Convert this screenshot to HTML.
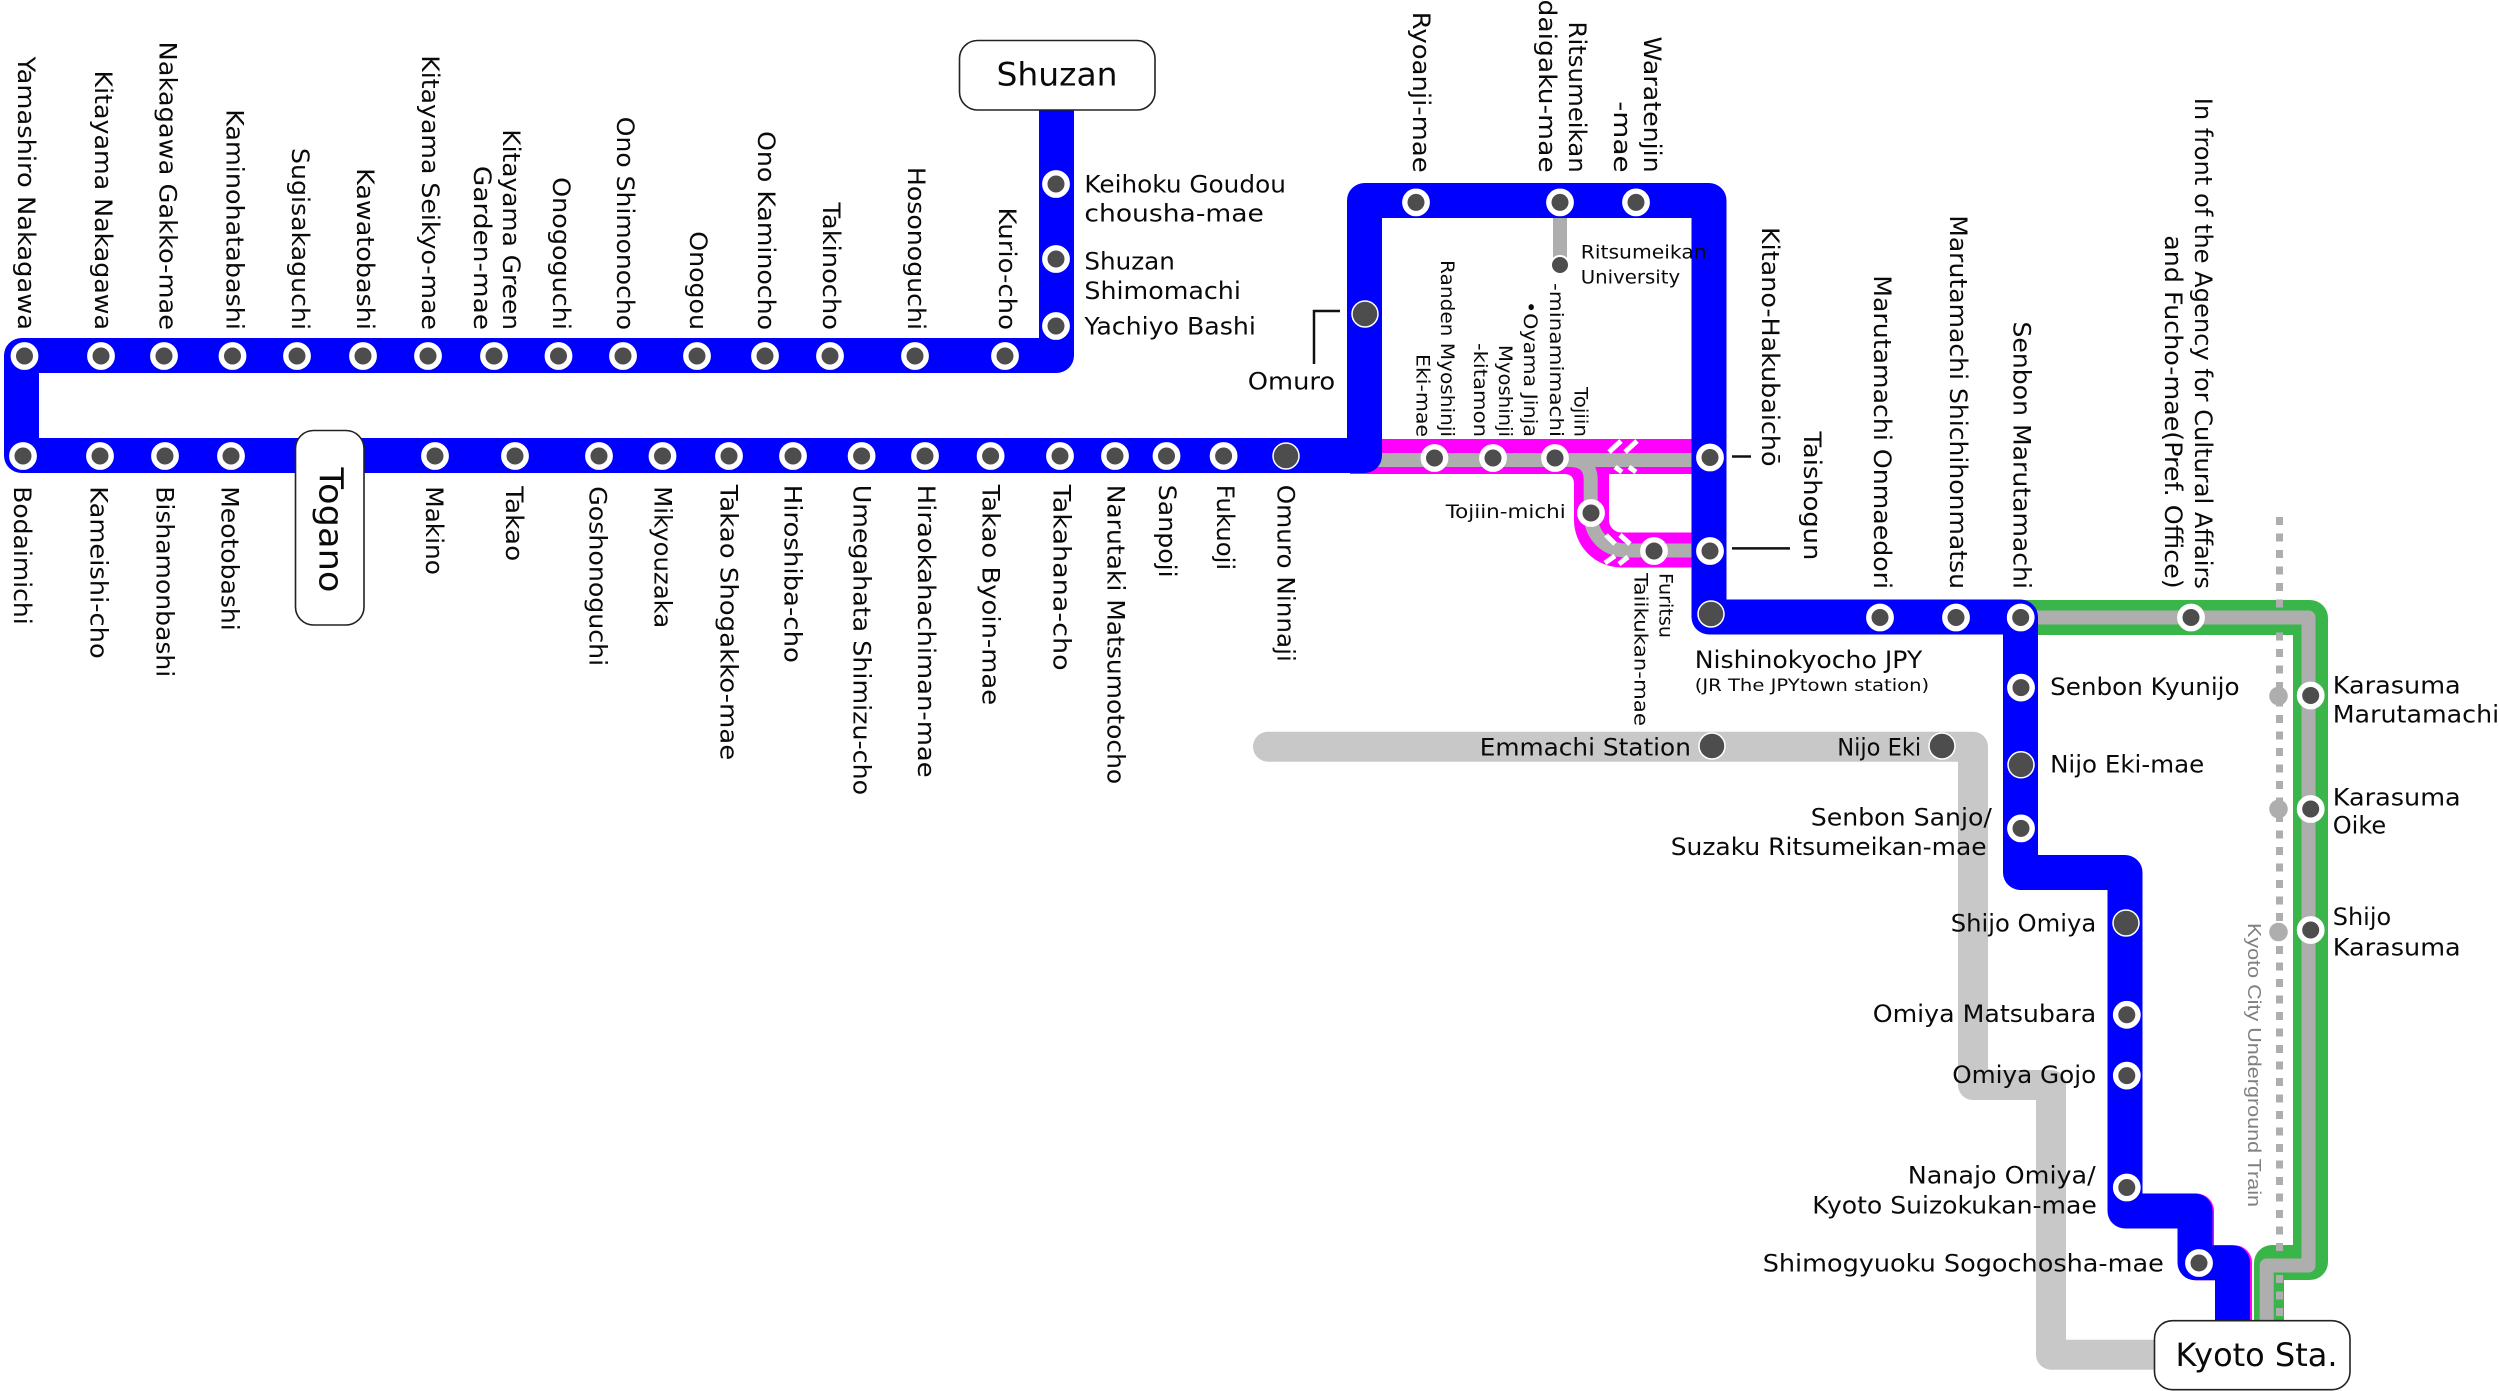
<!DOCTYPE html>
<html><head><meta charset="utf-8"><style>
html,body{margin:0;padding:0;background:#fff}
svg{display:block}
text{font-family:"DejaVu Sans","Liberation Sans",sans-serif;font-size:24px;fill:#0a0a0a}
.m{font-size:19px}
.s{fill:#4d4d4d;stroke:#fff;stroke-width:5.4}
.b{fill:#4d4d4d;stroke:#fff;stroke-width:1.5}
.l{fill:none;stroke-linejoin:round}
</style></head><body>
<svg xmlns="http://www.w3.org/2000/svg" width="2500" height="1391" viewBox="0 0 2500 1391">
<rect width="2500" height="1391" fill="#fff"/>
<!-- light gray line -->
<path class="l" d="M1268,746.7H1973V1085H2051V1354.7H2160" stroke="#c8c8c8" stroke-width="30" stroke-linecap="round"/>
<!-- magenta -->
<path class="l" d="M1350,456.5H1700" stroke="#ff00ff" stroke-width="35"/>
<path class="l" d="M1591.5,470V520A30,30 0 0 0 1621.5,550H1700" stroke="#ff00ff" stroke-width="35"/>
<path d="M1564,474Q1574,474 1574,484V474Z" fill="#ff00ff"/>
<path class="l" d="M2125,1211H2196.5V1262.7H2234.5V1325" stroke="#ff00ff" stroke-width="35"/>
<!-- gray spur lines -->
<path class="l" d="M1370,460H1700" stroke="#aeaeae" stroke-width="14"/>
<path class="l" d="M1560,460H1570Q1590.7,460 1590.7,480V515A35,35 0 0 0 1625.7,550.5H1700" stroke="#aeaeae" stroke-width="14"/>
<path class="l" d="M1560,210V262" stroke="#aeaeae" stroke-width="14"/>
<!-- slashes -->
<g stroke="#fff" stroke-width="5" fill="none">
<path d="M1609,452L1621,441M1625,452L1637,441M1615,467L1622,472M1629,467L1636,472"/>
<path d="M1606,535L1615,544M1620,535L1630,544M1605,563L1615,556M1619,564L1628,557"/>
</g>
<!-- green -->
<path d="M2020,600H2310a18,18 0 0 1 18,18V1262a18,18 0 0 1 -18,18H2284V1325H2254V1263a18,18 0 0 1 18,-18H2293V635H2020Z" fill="#39b54a"/>
<path class="l" d="M2030,617.5H2308.5V1265.5H2266.7V1325" stroke="#aeaeae" stroke-width="14"/>
<!-- dotted -->
<path d="M2279.5,517V1251" stroke="#aeaeae" stroke-width="7" stroke-dasharray="8 8.5" fill="none"/>
<path d="M2279.5,1275V1317" stroke="#aeaeae" stroke-width="7" stroke-dasharray="8 8.5" fill="none"/>
<!-- blue -->
<path class="l" d="M1056.5,100V355.5H21.5V455.5H1364.5V200.5H1709V617H2020.5V872.5H2125V1211H2195V1262.7H2232.5V1325" stroke="#0000ff" stroke-width="35"/>
<!-- leaders -->
<path d="M1340,311H1314V364M1732,456.5H1751M1732,548.4H1790" fill="none" stroke="#111" stroke-width="2.5"/>
<!-- gray minor circles -->
<g fill="#aeaeae"><circle cx="2278.5" cy="696" r="9.3"/><circle cx="2278.5" cy="809" r="9.3"/><circle cx="2278.5" cy="932" r="9.3"/></g>
<!-- stations -->
<g>
<circle class="s" cx="24.5" cy="356" r="11.2"/><circle class="s" cx="101" cy="356" r="11.2"/><circle class="s" cx="164" cy="356" r="11.2"/><circle class="s" cx="232.5" cy="356" r="11.2"/><circle class="s" cx="297" cy="356" r="11.2"/><circle class="s" cx="363" cy="356" r="11.2"/><circle class="s" cx="428" cy="356" r="11.2"/><circle class="s" cx="494" cy="356" r="11.2"/><circle class="s" cx="558.5" cy="356" r="11.2"/><circle class="s" cx="623" cy="356" r="11.2"/><circle class="s" cx="697" cy="356" r="11.2"/><circle class="s" cx="765" cy="356" r="11.2"/><circle class="s" cx="830" cy="356" r="11.2"/><circle class="s" cx="915" cy="356" r="11.2"/><circle class="s" cx="1005" cy="356" r="11.2"/>
<circle class="s" cx="1056" cy="184" r="11.2"/><circle class="s" cx="1056" cy="259" r="11.2"/><circle class="s" cx="1056" cy="326" r="11.2"/>
<circle class="s" cx="23" cy="456" r="11.2"/><circle class="s" cx="100" cy="456" r="11.2"/><circle class="s" cx="165" cy="456" r="11.2"/><circle class="s" cx="231" cy="456" r="11.2"/><circle class="s" cx="435" cy="456" r="11.2"/><circle class="s" cx="515" cy="456" r="11.2"/><circle class="s" cx="599" cy="456" r="11.2"/><circle class="s" cx="662.5" cy="456" r="11.2"/><circle class="s" cx="729" cy="456" r="11.2"/><circle class="s" cx="793" cy="456" r="11.2"/><circle class="s" cx="861.6" cy="456" r="11.2"/><circle class="s" cx="925" cy="456" r="11.2"/><circle class="s" cx="990.6" cy="456" r="11.2"/><circle class="s" cx="1060" cy="456" r="11.2"/><circle class="s" cx="1115" cy="456" r="11.2"/><circle class="s" cx="1166.5" cy="456" r="11.2"/><circle class="s" cx="1223.6" cy="456" r="11.2"/>
<circle class="b" cx="1286" cy="456" r="13"/><circle class="b" cx="1365" cy="314" r="13"/>
<circle class="s" cx="1416" cy="202.4" r="11.2"/><circle class="s" cx="1560" cy="202.4" r="11.2"/><circle class="s" cx="1636" cy="202.4" r="11.2"/>
<circle cx="1560" cy="265" r="9" fill="#4d4d4d" stroke="#fff" stroke-width="2"/>
<circle class="s" cx="1434.5" cy="458" r="11.2"/><circle class="s" cx="1493" cy="458" r="11.2"/><circle class="s" cx="1555" cy="458" r="11.2"/>
<circle class="s" cx="1710" cy="457.5" r="11.2"/><circle class="s" cx="1710" cy="551" r="11.2"/><circle class="b" cx="1711" cy="614" r="13"/>
<circle class="s" cx="1591" cy="513" r="11.2"/><circle class="s" cx="1654" cy="551" r="11.2"/>
<circle class="s" cx="1880" cy="617.5" r="11.2"/><circle class="s" cx="1956" cy="617.5" r="11.2"/>
<circle class="s" cx="2020.7" cy="617.5" r="11.2"/><circle class="s" cx="2021" cy="687.6" r="11.2"/><circle class="b" cx="2021" cy="764.8" r="13"/><circle class="s" cx="2021" cy="828.4" r="11.2"/>
<circle class="b" cx="2126" cy="923" r="13"/><circle class="s" cx="2126.8" cy="1014.8" r="11.2"/><circle class="s" cx="2126.8" cy="1075.6" r="11.2"/><circle class="s" cx="2126.8" cy="1187.5" r="11.2"/>
<circle class="s" cx="2199" cy="1263" r="11.2"/><circle class="s" cx="2191" cy="617.5" r="11.2"/>
<circle class="s" cx="2310.7" cy="695.5" r="11.2"/><circle class="s" cx="2310.7" cy="809" r="11.2"/><circle class="s" cx="2310.7" cy="930" r="11.2"/>
<circle class="b" cx="1712" cy="746" r="13"/><circle class="b" cx="1942" cy="746" r="13"/>
</g>
<!-- boxes -->
<g fill="#fff" stroke="#222" stroke-width="1.6">
<rect x="959.5" y="40.5" width="195.5" height="69.5" rx="18"/>
<rect x="295.5" y="430.5" width="68.5" height="194.5" rx="18"/>
<rect x="2154.5" y="1320.7" width="195.5" height="69" rx="18"/>
</g>
<text x="996.5" y="85.5" style="font-size:32px" textLength="121" lengthAdjust="spacingAndGlyphs">Shuzan</text>
<text transform="translate(319.5,467.5) rotate(90)" style="font-size:33px" textLength="125" lengthAdjust="spacingAndGlyphs">Togano</text>
<text x="2175.5" y="1366" style="font-size:32px" textLength="162" lengthAdjust="spacingAndGlyphs">Kyoto Sta.</text>
<!-- top vertical labels -->
<g transform="translate(1.2,-1.5)">
<text transform="translate(17,58) rotate(90)" textLength="273.5" lengthAdjust="spacingAndGlyphs">Yamashiro Nakagawa</text>
<text transform="translate(94,72) rotate(90)" textLength="259.5" lengthAdjust="spacingAndGlyphs">Kitayama Nakagawa</text>
<text transform="translate(158.5,43) rotate(90)" textLength="288.5" lengthAdjust="spacingAndGlyphs">Nakagawa Gakko-mae</text>
<text transform="translate(225.4,110.7) rotate(90)" textLength="220.8" lengthAdjust="spacingAndGlyphs">Kaminohatabashi</text>
<text transform="translate(291,149.5) rotate(90)" textLength="182" lengthAdjust="spacingAndGlyphs">Sugisakaguchi</text>
<text transform="translate(355.8,169.6) rotate(90)" textLength="161.9" lengthAdjust="spacingAndGlyphs">Kawatobashi</text>
<text transform="translate(421,56.7) rotate(90)" textLength="274.8" lengthAdjust="spacingAndGlyphs">Kitayama Seikyo-mae</text>
<text transform="translate(502,130.8) rotate(90)" textLength="200.7" lengthAdjust="spacingAndGlyphs">Kitayama Green</text>
<text transform="translate(473,167.4) rotate(90)" textLength="164.1" lengthAdjust="spacingAndGlyphs">Garden-mae</text>
<text transform="translate(552,178.6) rotate(90)" textLength="152.9" lengthAdjust="spacingAndGlyphs">Onogoguchi</text>
<text transform="translate(616,118.3) rotate(90)" textLength="213.2" lengthAdjust="spacingAndGlyphs">Ono Shimonocho</text>
<text transform="translate(689,232.7) rotate(90)" textLength="98.8" lengthAdjust="spacingAndGlyphs">Onogou</text>
<text transform="translate(757,132.6) rotate(90)" textLength="198.9" lengthAdjust="spacingAndGlyphs">Ono Kaminocho</text>
<text transform="translate(822,204) rotate(90)" textLength="127.5" lengthAdjust="spacingAndGlyphs">Takinocho</text>
<text transform="translate(906.7,168.4) rotate(90)" textLength="163.1" lengthAdjust="spacingAndGlyphs">Hosonoguchi</text>
<text transform="translate(998,209) rotate(90)" textLength="122.5" lengthAdjust="spacingAndGlyphs">Kurio-cho</text>
<text transform="translate(1412,13.3) rotate(90)" textLength="160.9" lengthAdjust="spacingAndGlyphs">Ryoanji-mae</text>
<text transform="translate(1538,1) rotate(90)" textLength="173.2" lengthAdjust="spacingAndGlyphs">daigaku-mae</text>
<text transform="translate(1568,23) rotate(90)" textLength="151.2" lengthAdjust="spacingAndGlyphs">Ritsumeikan</text>
<text transform="translate(1643,38) rotate(90)" textLength="136.2" lengthAdjust="spacingAndGlyphs">Waratenjin</text>
<text transform="translate(1613,102.7) rotate(90)" textLength="71.5" lengthAdjust="spacingAndGlyphs">-mae</text>
</g>
<!-- bottom vertical labels -->
<g transform="translate(0.6,-1.3)">
<text transform="translate(13.4,487.5) rotate(90)" textLength="138.5" lengthAdjust="spacingAndGlyphs">Bodaimichi</text>
<text transform="translate(90,487.5) rotate(90)" textLength="172.5" lengthAdjust="spacingAndGlyphs">Kameishi-cho</text>
<text transform="translate(156,487.5) rotate(90)" textLength="191" lengthAdjust="spacingAndGlyphs">Bishamonbashi</text>
<text transform="translate(221,487.5) rotate(90)" textLength="144.5" lengthAdjust="spacingAndGlyphs">Meotobashi</text>
<text transform="translate(425.4,487.5) rotate(90)" textLength="88.7" lengthAdjust="spacingAndGlyphs">Makino</text>
<text transform="translate(505.4,487.5) rotate(90)" textLength="75" lengthAdjust="spacingAndGlyphs">Takao</text>
<text transform="translate(589,487.5) rotate(90)" textLength="180" lengthAdjust="spacingAndGlyphs">Goshonoguchi</text>
<text transform="translate(654,487.5) rotate(90)" textLength="142" lengthAdjust="spacingAndGlyphs">Mikyouzaka</text>
<text transform="translate(720,486) rotate(90)" textLength="275.5" lengthAdjust="spacingAndGlyphs">Takao Shogakko-mae</text>
<text transform="translate(784,486) rotate(90)" textLength="178.2" lengthAdjust="spacingAndGlyphs">Hiroshiba-cho</text>
<text transform="translate(852.7,486) rotate(90)" textLength="310.5" lengthAdjust="spacingAndGlyphs">Umegahata Shimizu-cho</text>
<text transform="translate(917.4,486) rotate(90)" textLength="293" lengthAdjust="spacingAndGlyphs">Hiraokahachiman-mae</text>
<text transform="translate(981.7,486) rotate(90)" textLength="220.5" lengthAdjust="spacingAndGlyphs">Takao Byoin-mae</text>
<text transform="translate(1052.7,486) rotate(90)" textLength="185.9" lengthAdjust="spacingAndGlyphs">Takahana-cho</text>
<text transform="translate(1106.7,486) rotate(90)" textLength="299.5" lengthAdjust="spacingAndGlyphs">Narutaki Matsumotocho</text>
<text transform="translate(1158.5,486) rotate(90)" textLength="93" lengthAdjust="spacingAndGlyphs">Sanpoji</text>
<text transform="translate(1216.5,486) rotate(90)" textLength="85.5" lengthAdjust="spacingAndGlyphs">Fukuoji</text>
<text transform="translate(1277,486) rotate(90)" textLength="177.2" lengthAdjust="spacingAndGlyphs">Omuro Ninnaji</text>
</g>
<!-- right vertical labels -->
<g transform="translate(1.2,-1.5)">
<text transform="translate(1761,228.5) rotate(90)" textLength="239.5" lengthAdjust="spacingAndGlyphs">Kitano-Hakubaichō</text>
<text transform="translate(1802.7,433) rotate(90)" textLength="128.8" lengthAdjust="spacingAndGlyphs">Taishogun</text>
<text transform="translate(1873,276.7) rotate(90)" textLength="313.8" lengthAdjust="spacingAndGlyphs">Marutamachi Onmaedori</text>
<text transform="translate(1949,216.7) rotate(90)" textLength="373.8" lengthAdjust="spacingAndGlyphs">Marutamachi Shichihonmatsu</text>
<text transform="translate(2012.3,323) rotate(90)" textLength="267.5" lengthAdjust="spacingAndGlyphs">Senbon Marutamachi</text>
<text transform="translate(2194,99.3) rotate(90)" textLength="491.2" lengthAdjust="spacingAndGlyphs">In front of the Agency for Cultural Affairs</text>
<text transform="translate(2164,236.7) rotate(90)" textLength="353.5" lengthAdjust="spacingAndGlyphs">and Fucho-mae(Pref. Office)</text>
</g>
<text transform="translate(2248,923) rotate(90)" style="font-family:'Liberation Sans',sans-serif;font-size:18px;fill:#808080" textLength="284" lengthAdjust="spacingAndGlyphs">Kyoto City Underground Train</text>
<!-- small vertical labels -->
<g>
<text class="m" transform="translate(1441,260) rotate(90)" textLength="177" lengthAdjust="spacingAndGlyphs">Randen Myoshinji</text>
<text class="m" transform="translate(1416.5,354) rotate(90)" textLength="83" lengthAdjust="spacingAndGlyphs">Eki-mae</text>
<text class="m" transform="translate(1499,345) rotate(90)" textLength="92" lengthAdjust="spacingAndGlyphs">Myoshinji</text>
<text class="m" transform="translate(1474,343) rotate(90)" textLength="94" lengthAdjust="spacingAndGlyphs">-kitamon</text>
<text class="m" transform="translate(1574.5,387) rotate(90)" textLength="50" lengthAdjust="spacingAndGlyphs">Tojiin</text>
<text class="m" transform="translate(1550,283) rotate(90)" textLength="154" lengthAdjust="spacingAndGlyphs">-minamimachi</text>
<text class="m" transform="translate(1524,301) rotate(90)" textLength="136" lengthAdjust="spacingAndGlyphs">•Oyama Jinja</text>
<text class="m" transform="translate(1659.5,573) rotate(90)" textLength="65" lengthAdjust="spacingAndGlyphs">Furitsu</text>
<text class="m" transform="translate(1634.6,573) rotate(90)" textLength="153" lengthAdjust="spacingAndGlyphs">Taiikukan-mae</text>
</g>
<!-- horizontal labels -->
<g transform="translate(-1.3,-0.4)">
<text x="1085.7" y="193" textLength="201.5" lengthAdjust="spacingAndGlyphs">Keihoku Goudou</text>
<text x="1085.7" y="222" textLength="179.5" lengthAdjust="spacingAndGlyphs">chousha-mae</text>
<text x="1085.7" y="270" textLength="90.5" lengthAdjust="spacingAndGlyphs">Shuzan</text>
<text x="1085.7" y="299.5" textLength="156.5" lengthAdjust="spacingAndGlyphs">Shimomachi</text>
<text x="1085.7" y="335" textLength="171.5" lengthAdjust="spacingAndGlyphs">Yachiyo Bashi</text>
<text x="1249" y="390" textLength="87.5" lengthAdjust="spacingAndGlyphs">Omuro</text>
<text class="m" x="1582" y="259" textLength="126" lengthAdjust="spacingAndGlyphs">Ritsumeikan</text>
<text class="m" x="1582" y="284" textLength="99.5" lengthAdjust="spacingAndGlyphs">University</text>
<text class="m" x="1447" y="518.5" textLength="120" lengthAdjust="spacingAndGlyphs">Tojiin-michi</text>
<text x="1696" y="668.5" textLength="227.5" lengthAdjust="spacingAndGlyphs">Nishinokyocho JPY</text>
<text x="1696" y="691.5" style="font-size:17px" textLength="234.5" lengthAdjust="spacingAndGlyphs">(JR The JPYtown station)</text>
<text x="1481" y="756" textLength="211.2" lengthAdjust="spacingAndGlyphs">Emmachi Station</text>
<text x="1838.5" y="756" textLength="84" lengthAdjust="spacingAndGlyphs">Nijo Eki</text>
<text x="1812" y="826" textLength="181.2" lengthAdjust="spacingAndGlyphs">Senbon Sanjo/</text>
<text x="1672" y="855.5" textLength="315.9" lengthAdjust="spacingAndGlyphs">Suzaku Ritsumeikan-mae</text>
<text x="2051.4" y="695.5" textLength="189.5" lengthAdjust="spacingAndGlyphs">Senbon Kyunijo</text>
<text x="2051.4" y="772.7" textLength="154.1" lengthAdjust="spacingAndGlyphs">Nijo Eki-mae</text>
<text x="1952" y="931.8" textLength="145.5" lengthAdjust="spacingAndGlyphs">Shijo Omiya</text>
<text x="1874" y="1022.5" textLength="223.5" lengthAdjust="spacingAndGlyphs">Omiya Matsubara</text>
<text x="1953.5" y="1083.5" textLength="144" lengthAdjust="spacingAndGlyphs">Omiya Gojo</text>
<text x="1909" y="1184" textLength="188" lengthAdjust="spacingAndGlyphs">Nanajo Omiya/</text>
<text x="1813.6" y="1214" textLength="284.5" lengthAdjust="spacingAndGlyphs">Kyoto Suizokukan-mae</text>
<text x="1764" y="1272" textLength="401.1" lengthAdjust="spacingAndGlyphs">Shimogyuoku Sogochosha-mae</text>
<text x="2334" y="693.7" textLength="128" lengthAdjust="spacingAndGlyphs">Karasuma</text>
<text x="2334" y="722.7" textLength="166.5" lengthAdjust="spacingAndGlyphs">Marutamachi</text>
<text x="2334" y="805.7" textLength="128" lengthAdjust="spacingAndGlyphs">Karasuma</text>
<text x="2334" y="834" textLength="53.5" lengthAdjust="spacingAndGlyphs">Oike</text>
<text x="2334" y="925.6" textLength="58.5" lengthAdjust="spacingAndGlyphs">Shijo</text>
<text x="2334" y="955.7" textLength="128" lengthAdjust="spacingAndGlyphs">Karasuma</text>
</g>
</svg>
</body></html>
